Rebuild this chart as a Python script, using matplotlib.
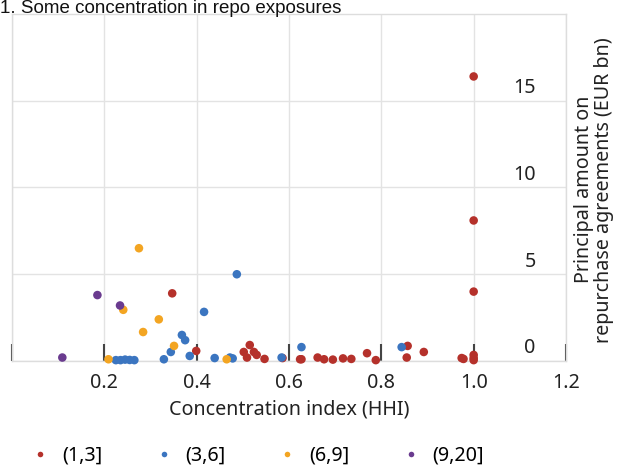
import matplotlib
matplotlib.use("Agg")
import matplotlib.pyplot as plt
from matplotlib.lines import Line2D
from matplotlib.transforms import blended_transform_factory

# ---- data ----
categories = ["(1,3]", "(3,6]", "(6,9]", "(9,20]"]
colors = ["#b5312b", "#3b75c0", "#f3a522", "#6a3b8f"]

red_x = [1.0, 1.0, 1.0, 0.347, 0.399, 0.515, 0.502, 0.524, 0.53, 0.509, 0.547,
         0.586, 0.624, 0.627, 0.662, 0.676, 0.695, 0.717, 0.735, 0.769, 0.788,
         0.857, 0.855, 0.892, 0.974, 0.978, 1.0, 1.0, 1.0]
red_y = [16.4, 8.1, 4.0, 3.9, 0.58, 0.92, 0.52, 0.52, 0.35, 0.2, 0.12,
         0.17, 0.1, 0.1, 0.2, 0.1, 0.08, 0.15, 0.12, 0.45, 0.05,
         0.87, 0.2, 0.52, 0.17, 0.12, 0.35, 0.17, 0.05]

blue_x = [0.487, 0.416, 0.368, 0.375, 0.344, 0.385, 0.329, 0.439, 0.478,
          0.225, 0.235, 0.245, 0.255, 0.265, 0.472, 0.584, 0.627, 0.844]
blue_y = [5.0, 2.83, 1.5, 1.2, 0.52, 0.29, 0.1, 0.17, 0.15,
          0.05, 0.05, 0.08, 0.06, 0.05, 0.2, 0.2, 0.8, 0.8]

orange_x = [0.275, 0.241, 0.318, 0.284, 0.351, 0.209, 0.465]
orange_y = [6.5, 2.95, 2.4, 1.67, 0.87, 0.1, 0.1]

purple_x = [0.185, 0.234, 0.109]
purple_y = [3.8, 3.2, 0.2]

x_ticks = [0.0, 0.2, 0.4, 0.6, 0.8, 1.0, 1.2]
x_ticklabels = ["", "0.2", "0.4", "0.6", "0.8", "1.0", "1.2"]
y_ticks = [0, 5, 10, 15]

title = "1. Some concentration in repo exposures"
xlabel = "Concentration index (HHI)"
ylabel = "Principal amount on\nrepurchase agreements (EUR bn)"

# ---- figure ----
plt.rcParams["font.family"] = ["Noto Sans", "DejaVu Sans"]
FS = 14.2
TXT = "#222222"
fig = plt.figure(figsize=(6.17, 4.72), dpi=100)
ax = fig.add_axes([12 / 617, 111 / 472, 554 / 617, 347 / 472])

series = [(red_x, red_y), (blue_x, blue_y), (orange_x, orange_y), (purple_x, purple_y)]
for (xs, ys), c in zip(series, colors):
    ax.scatter(xs, ys, s=38, color=c, edgecolors="none", zorder=3, clip_on=False)

ax.set_xlim(0, 1.2)
ax.set_ylim(0, 20)

ax.set_xticks(x_ticks)
ax.set_xticklabels(x_ticklabels, fontsize=FS, color=TXT)
ax.tick_params(axis="x", direction="in", length=12, width=1.5, color="#444444", pad=9)
ax.set_yticks(y_ticks)
ax.set_yticklabels([])
ax.tick_params(axis="y", length=0)

ax.grid(True, color="#e3e3e3", linewidth=1)
ax.set_axisbelow(True)
for s in ax.spines.values():
    s.set_color("#dddddd")
    s.set_linewidth(1)

trans = blended_transform_factory(ax.transAxes, ax.transData)
for v in y_ticks:
    ax.text(0.945, v + 0.15, str(v), transform=trans, ha="right", va="bottom",
            fontsize=FS, color=TXT)

ax.set_xlabel(xlabel, fontsize=FS, color=TXT, labelpad=4)

fig.text(594 / 617, 0.598, ylabel, rotation=90, ha="center", va="center",
         fontsize=FS, color=TXT, linespacing=1.05)

fig.text(0.0, 0.9735, title, ha="left", va="baseline", fontsize=13.5,
         family=["Liberation Sans", "DejaVu Sans"], color="#111111")

handles = [Line2D([], [], marker="o", linestyle="none", markersize=4,
                  markerfacecolor=c, markeredgecolor="none") for c in colors]
fig.legend(handles, categories, loc="lower left", bbox_to_anchor=(0.024, -0.02),
           ncol=4, frameon=False, fontsize=FS, handlelength=1.0,
           handletextpad=0.6, columnspacing=2.62, borderpad=0.3)

fig.savefig("out.png", dpi=100)
